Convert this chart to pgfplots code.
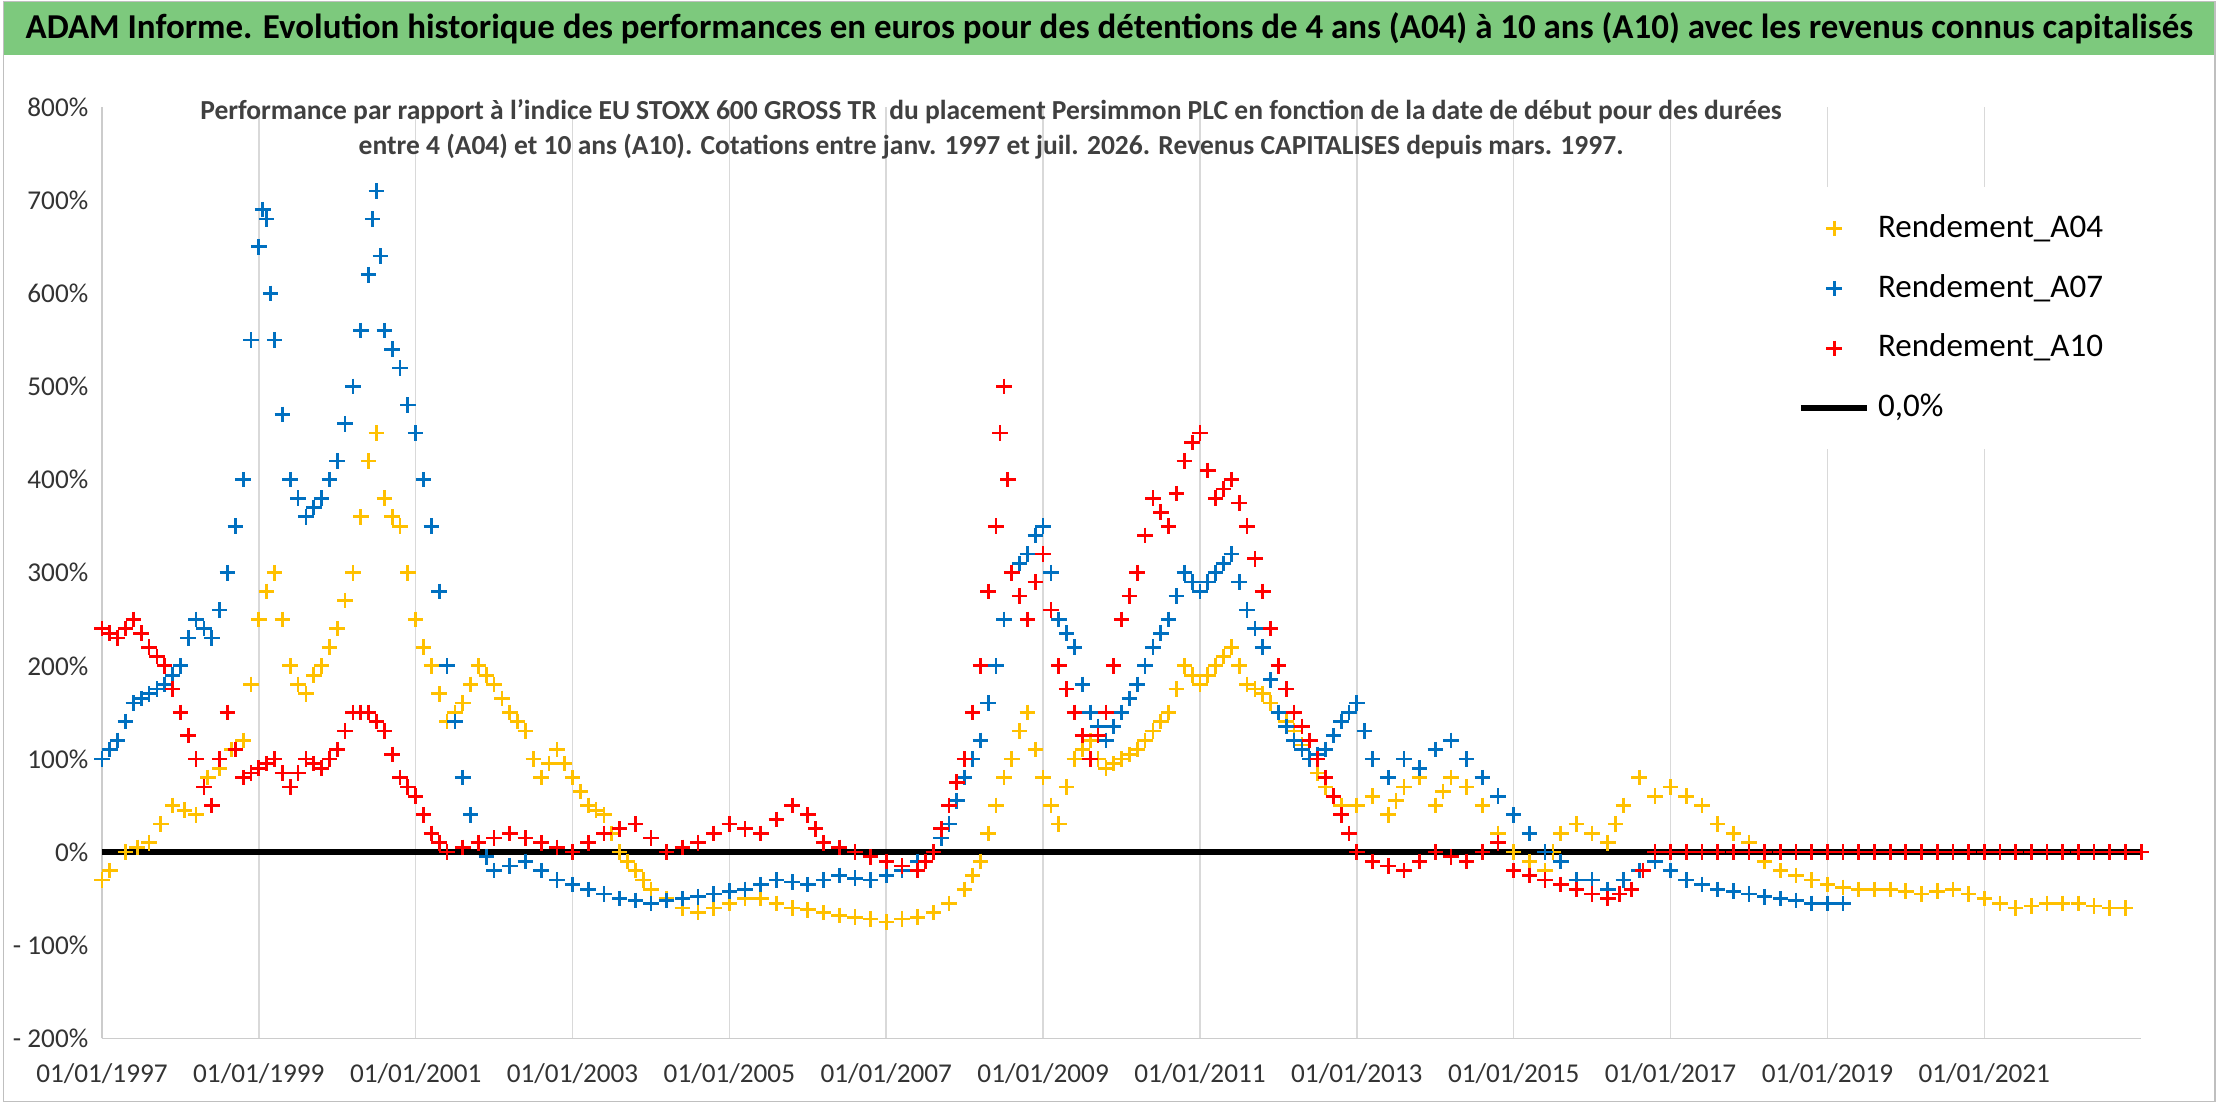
\documentclass[border=0pt]{standalone}
\usepackage{pgfplots}
\pgfplotsset{compat=1.18}
\usepackage{fontspec}
\setmainfont{Carlito}
\definecolor{cA}{HTML}{FFC000}
\definecolor{cB}{HTML}{0070C0}
\definecolor{cC}{HTML}{FF0000}
\definecolor{tbar}{HTML}{7DC97D}
\begin{document}
\begin{tikzpicture}
\fill[white] (-0.89cm,-0.57cm) rectangle (19.11cm,9.377cm);
\begin{axis}[name=ax, scale only axis, width=18.44cm, height=8.42cm,
 xmin=1997, xmax=2023, ymin=-200, ymax=800,
 xtick={1997,1999,...,2021},
 xticklabels={01/01/1997,01/01/1999,01/01/2001,01/01/2003,01/01/2005,01/01/2007,01/01/2009,01/01/2011,01/01/2013,01/01/2015,01/01/2017,01/01/2019,01/01/2021},
 ytick={-200,-100,...,800},
 yticklabels={- 200\%,- 100\%,0\%,100\%,200\%,300\%,400\%,500\%,600\%,700\%,800\%},
 tick label style={font=\fontsize{7}{8}\selectfont, text=black!80},
 xticklabel style={yshift=-3pt},
 xmajorgrids, grid style={gray!30},
 axis line style={gray!40}, tick style={draw=none},
 axis x line*=bottom, axis y line*=left,
 legend style={at={(0.995,0.915)}, anchor=north east, draw=none, fill=white,
   font=\fontsize{8.5}{10}\selectfont, row sep=4pt, inner sep=5pt},
 legend cell align=left,
 clip=false]
\addplot[only marks, mark=+, mark size=2pt, cA, line width=0.7pt] coordinates {
(1997.0,-30)(1997.1,-20)(1997.3,0)(1997.45,5)(1997.6,10)(1997.75,30)(1997.9,50)(1998.05,45)(1998.2,40)(1998.35,80)(1998.5,90)(1998.65,110)(1998.8,120)(1998.9,180)(1999.0,250)(1999.1,280)(1999.2,300)(1999.3,250)(1999.4,200)(1999.5,180)(1999.6,170)(1999.7,190)(1999.8,200)(1999.9,220)(2000.0,240)(2000.1,270)(2000.2,300)(2000.3,360)(2000.4,420)(2000.5,450)(2000.6,380)(2000.7,360)(2000.8,350)(2000.9,300)(2001.0,250)(2001.1,220)(2001.2,200)(2001.3,170)(2001.4,140)(2001.5,150)(2001.6,160)(2001.7,180)(2001.8,200)(2001.9,190)(2002.0,180)(2002.1,165)(2002.2,150)(2002.3,140)(2002.4,130)(2002.5,100)(2002.6,80)(2002.7,95)(2002.8,110)(2002.9,95)(2003.0,80)(2003.1,65)(2003.2,50)(2003.3,45)(2003.4,40)(2003.5,20)(2003.6,0)(2003.7,-10)(2003.8,-20)(2003.9,-30)(2004.0,-40)(2004.2,-50)(2004.4,-60)(2004.6,-65)(2004.8,-60)(2005.0,-55)(2005.2,-50)(2005.4,-50)(2005.6,-55)(2005.8,-60)(2006.0,-62)(2006.2,-65)(2006.4,-68)(2006.6,-70)(2006.8,-72)(2007.0,-75)(2007.2,-72)(2007.4,-70)(2007.6,-65)(2007.8,-55)(2008.0,-40)(2008.1,-25)(2008.2,-10)(2008.3,20)(2008.4,50)(2008.5,80)(2008.6,100)(2008.7,130)(2008.8,150)(2008.9,110)(2009.0,80)(2009.1,50)(2009.2,30)(2009.3,70)(2009.4,100)(2009.5,110)(2009.6,120)(2009.7,100)(2009.8,90)(2009.9,95)(2010.0,100)(2010.1,105)(2010.2,110)(2010.3,120)(2010.4,130)(2010.5,140)(2010.6,150)(2010.7,175)(2010.8,200)(2010.9,190)(2011.0,180)(2011.1,190)(2011.2,200)(2011.3,210)(2011.4,220)(2011.5,200)(2011.6,180)(2011.7,175)(2011.8,170)(2011.9,160)(2012.0,150)(2012.1,140)(2012.2,130)(2012.3,115)(2012.4,100)(2012.5,85)(2012.6,70)(2012.7,60)(2012.8,50)(2013.0,50)(2013.2,60)(2013.4,40)(2013.5,55)(2013.6,70)(2013.8,80)(2014.0,50)(2014.1,65)(2014.2,80)(2014.4,70)(2014.6,50)(2014.8,20)(2015.0,0)(2015.2,-10)(2015.4,-20)(2015.5,0)(2015.6,20)(2015.8,30)(2016.0,20)(2016.2,10)(2016.3,30)(2016.4,50)(2016.6,80)(2016.8,60)(2017.0,70)(2017.2,60)(2017.4,50)(2017.6,30)(2017.8,20)(2018.0,10)(2018.2,-10)(2018.4,-20)(2018.6,-25)(2018.8,-30)(2019.0,-35)(2019.2,-38)(2019.4,-40)(2019.6,-40)(2019.8,-40)(2020.0,-42)(2020.2,-45)(2020.4,-42)(2020.6,-40)(2020.8,-45)(2021.0,-50)(2021.2,-55)(2021.4,-60)(2021.6,-58)(2021.8,-55)(2022.0,-55)(2022.2,-55)(2022.4,-58)(2022.6,-60)(2022.8,-60)
};
\addlegendentry{Rendement\_A04}
\addplot[only marks, mark=+, mark size=2pt, cB, line width=0.7pt] coordinates {
(1997.0,100)(1997.1,110)(1997.2,120)(1997.3,140)(1997.4,160)(1997.5,165)(1997.6,170)(1997.7,175)(1997.8,180)(1997.9,190)(1998.0,200)(1998.1,230)(1998.2,250)(1998.3,240)(1998.4,230)(1998.5,260)(1998.6,300)(1998.7,350)(1998.8,400)(1998.9,550)(1999.0,650)(1999.05,690)(1999.1,680)(1999.15,600)(1999.2,550)(1999.3,470)(1999.4,400)(1999.5,380)(1999.6,360)(1999.7,370)(1999.8,380)(1999.9,400)(2000.0,420)(2000.1,460)(2000.2,500)(2000.3,560)(2000.4,620)(2000.45,680)(2000.5,710)(2000.55,640)(2000.6,560)(2000.7,540)(2000.8,520)(2000.9,480)(2001.0,450)(2001.1,400)(2001.2,350)(2001.3,280)(2001.4,200)(2001.5,140)(2001.6,80)(2001.7,40)(2001.8,10)(2001.9,-5)(2002.0,-20)(2002.2,-15)(2002.4,-10)(2002.6,-20)(2002.8,-30)(2003.0,-35)(2003.2,-40)(2003.4,-45)(2003.6,-50)(2003.8,-52)(2004.0,-55)(2004.2,-52)(2004.4,-50)(2004.6,-48)(2004.8,-45)(2005.0,-42)(2005.2,-40)(2005.4,-35)(2005.6,-30)(2005.8,-32)(2006.0,-35)(2006.2,-30)(2006.4,-25)(2006.6,-28)(2006.8,-30)(2007.0,-25)(2007.2,-20)(2007.4,-10)(2007.6,0)(2007.7,15)(2007.8,30)(2007.9,55)(2008.0,80)(2008.1,100)(2008.2,120)(2008.3,160)(2008.4,200)(2008.5,250)(2008.6,300)(2008.7,310)(2008.8,320)(2008.9,340)(2009.0,350)(2009.1,300)(2009.2,250)(2009.3,235)(2009.4,220)(2009.5,180)(2009.6,150)(2009.7,135)(2009.8,120)(2009.9,135)(2010.0,150)(2010.1,165)(2010.2,180)(2010.3,200)(2010.4,220)(2010.5,235)(2010.6,250)(2010.7,275)(2010.8,300)(2010.9,290)(2011.0,280)(2011.1,290)(2011.2,300)(2011.3,310)(2011.4,320)(2011.5,290)(2011.6,260)(2011.7,240)(2011.8,220)(2011.9,185)(2012.0,150)(2012.1,135)(2012.2,120)(2012.3,110)(2012.4,100)(2012.5,105)(2012.6,110)(2012.7,125)(2012.8,140)(2012.9,150)(2013.0,160)(2013.1,130)(2013.2,100)(2013.4,80)(2013.6,100)(2013.8,90)(2014.0,110)(2014.2,120)(2014.4,100)(2014.6,80)(2014.8,60)(2015.0,40)(2015.2,20)(2015.4,0)(2015.6,-10)(2015.8,-30)(2016.0,-30)(2016.2,-40)(2016.4,-30)(2016.6,-20)(2016.8,-10)(2017.0,-20)(2017.2,-30)(2017.4,-35)(2017.6,-40)(2017.8,-42)(2018.0,-45)(2018.2,-48)(2018.4,-50)(2018.6,-52)(2018.8,-55)(2019.0,-55)(2019.2,-55)
};
\addlegendentry{Rendement\_A07}
\addplot[only marks, mark=+, mark size=2pt, cC, line width=0.7pt] coordinates {
(1997.0,240)(1997.1,235)(1997.2,230)(1997.3,240)(1997.4,250)(1997.5,235)(1997.6,220)(1997.7,210)(1997.8,200)(1997.9,175)(1998.0,150)(1998.1,125)(1998.2,100)(1998.3,70)(1998.4,50)(1998.5,100)(1998.6,150)(1998.7,110)(1998.8,80)(1998.9,85)(1999.0,90)(1999.1,95)(1999.2,100)(1999.3,85)(1999.4,70)(1999.5,85)(1999.6,100)(1999.7,95)(1999.8,90)(1999.9,100)(2000.0,110)(2000.1,130)(2000.2,150)(2000.3,150)(2000.4,150)(2000.5,140)(2000.6,130)(2000.7,105)(2000.8,80)(2000.9,70)(2001.0,60)(2001.1,40)(2001.2,20)(2001.3,10)(2001.4,0)(2001.6,5)(2001.8,10)(2002.0,15)(2002.2,20)(2002.4,15)(2002.6,10)(2002.8,5)(2003.0,0)(2003.2,10)(2003.4,20)(2003.6,25)(2003.8,30)(2004.0,15)(2004.2,0)(2004.4,5)(2004.6,10)(2004.8,20)(2005.0,30)(2005.2,25)(2005.4,20)(2005.6,35)(2005.8,50)(2006.0,40)(2006.1,25)(2006.2,10)(2006.4,5)(2006.6,0)(2006.8,-5)(2007.0,-10)(2007.2,-15)(2007.4,-20)(2007.5,-10)(2007.6,0)(2007.7,25)(2007.8,50)(2007.9,75)(2008.0,100)(2008.1,150)(2008.2,200)(2008.3,280)(2008.4,350)(2008.45,450)(2008.5,500)(2008.55,400)(2008.6,300)(2008.7,275)(2008.8,250)(2008.9,290)(2009.0,320)(2009.1,260)(2009.2,200)(2009.3,175)(2009.4,150)(2009.5,125)(2009.6,100)(2009.7,125)(2009.8,150)(2009.9,200)(2010.0,250)(2010.1,275)(2010.2,300)(2010.3,340)(2010.4,380)(2010.5,365)(2010.6,350)(2010.7,385)(2010.8,420)(2010.9,440)(2011.0,450)(2011.1,410)(2011.2,380)(2011.3,390)(2011.4,400)(2011.5,375)(2011.6,350)(2011.7,315)(2011.8,280)(2011.9,240)(2012.0,200)(2012.1,175)(2012.2,150)(2012.3,135)(2012.4,120)(2012.5,100)(2012.6,80)(2012.7,60)(2012.8,40)(2012.9,20)(2013.0,0)(2013.2,-10)(2013.4,-15)(2013.6,-20)(2013.8,-10)(2014.0,0)(2014.2,-5)(2014.4,-10)(2014.6,0)(2014.8,10)(2015.0,-20)(2015.2,-25)(2015.4,-30)(2015.6,-35)(2015.8,-40)(2016.0,-45)(2016.2,-50)(2016.35,-45)(2016.5,-40)(2016.65,-20)(2016.8,0)(2017.0,0)(2017.2,0)(2017.4,0)(2017.6,0)(2017.8,0)(2018.0,0)(2018.2,0)(2018.4,0)(2018.6,0)(2018.8,0)(2019.0,0)(2019.2,0)(2019.4,0)(2019.6,0)(2019.8,0)(2020.0,0)(2020.2,0)(2020.4,0)(2020.6,0)(2020.8,0)(2021.0,0)(2021.2,0)(2021.4,0)(2021.6,0)(2021.8,0)(2022.0,0)(2022.2,0)(2022.4,0)(2022.6,0)(2022.8,0)(2023.0,0)
};
\addlegendentry{Rendement\_A10}
\addplot[black, line width=1.5pt] coordinates {(1997,0)(2023,0)};
\addlegendentry{0,0\%}
\node[text=black!75] at (rel axis cs:0.436,0.975) {\resizebox{14.6cm}{!}{\bfseries\begin{tabular}{c}Performance par rapport à l'indice EU STOXX 600 GROSS TR \ du placement Persimmon PLC en fonction de la date de début pour des durées\\[1pt]entre 4 (A04) et 10 ans (A10). Cotations entre janv. 1997 et juil. 2026. Revenus CAPITALISES depuis mars. 1997.\end{tabular}}};
\end{axis}
\fill[tbar] (-0.89cm,8.89cm) rectangle (19.11cm,9.377cm);
\node at (9.11cm,9.13cm) {\resizebox{19.6cm}{!}{\bfseries ADAM Informe. Evolution historique des performances en euros pour des détentions de 4 ans (A04) à 10 ans (A10) avec les revenus connus capitalisés}};
\draw[gray!50] (-0.89cm,-0.57cm) rectangle (19.11cm,9.377cm);
\end{tikzpicture}
\end{document}
